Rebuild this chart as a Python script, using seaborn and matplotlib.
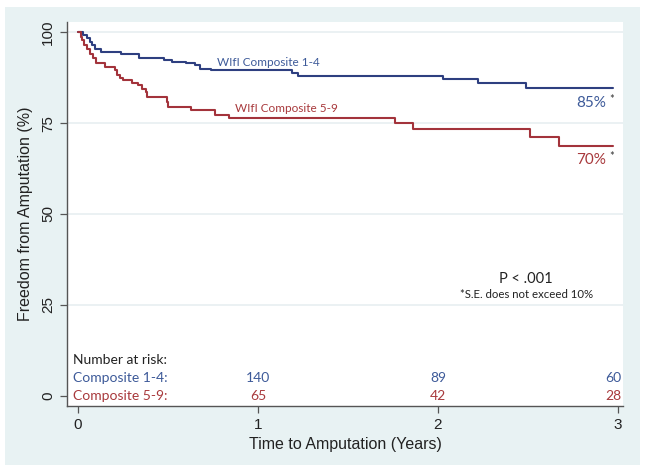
import numpy as np
import pandas as pd
import matplotlib
matplotlib.use("Agg")
import matplotlib.pyplot as plt
import seaborn as sns
from matplotlib.patches import Rectangle

# Kaplan-Meier step curves (years, % free from amputation)
t_low = [0, 0.03, 0.048, 0.067, 0.076, 0.094, 0.13, 0.24, 0.34, 0.48, 0.52, 0.60,
         0.65, 0.68, 0.74, 1.19, 1.22, 2.03, 2.22, 2.49, 2.97]
s_low = [100, 99.2, 98.3, 97.3, 96.4, 95.5, 94.6, 94.1, 92.8, 92.3, 91.8, 91.4,
         90.9, 90.0, 89.6, 88.8, 88.0, 87.0, 85.9, 84.7, 84.7]

t_high = [0, 0.015, 0.024, 0.033, 0.048, 0.067, 0.085, 0.10, 0.15, 0.206, 0.215,
          0.233, 0.252, 0.298, 0.335, 0.354, 0.378, 0.385, 0.493, 0.502, 0.63,
          0.76, 0.84, 1.76, 1.86, 2.51, 2.67, 2.97]
s_high = [100, 98.7, 97.8, 96.4, 95.5, 94.1, 92.8, 91.4, 90.5, 89.6, 88.2,
          87.3, 86.8, 85.9, 85.4, 84.5, 83.6, 82.2, 80.9, 79.5, 78.6,
          77.2, 76.3, 74.9, 73.3, 71.1, 68.7, 68.7]

risk_times = [1, 2, 3]
risk_low = [140, 89, 60]
risk_high = [65, 42, 28]

blue = "#2e3f80"
red = "#a3333b"
txt_blue = "#3d5a99"
txt_red = "#a8393c"

df = pd.concat([
    pd.DataFrame({"t": t_low, "s": s_low, "group": "1-4"}),
    pd.DataFrame({"t": t_high, "s": s_high, "group": "5-9"}),
])

sns.set_style("white")
plt.rcParams["font.family"] = ["Liberation Sans", "DejaVu Sans"]

fig = plt.figure(figsize=(6.45, 4.73), dpi=100, facecolor="white")
fig.add_artist(Rectangle((5 / 645, 1 - 465 / 473), 635 / 645, 458 / 473,
                         transform=fig.transFigure, facecolor="#e8f2f3",
                         edgecolor="none", zorder=-10))
ax = fig.add_axes([67 / 645, 1 - 406 / 473, 556 / 645, 384 / 473])
ax.set_facecolor("white")
ax.set_zorder(1)

sns.lineplot(data=df, x="t", y="s", hue="group", palette=[blue, red],
             drawstyle="steps-post", estimator=None, legend=False, lw=1.5, ax=ax)

ax.set_xlim(-0.061, 3.028)
ax.set_ylim(-2.8, 102.8)
ax.set_xticks([0, 1, 2, 3])
ax.set_yticks([0, 25, 50, 75, 100])
for y in [25, 50, 75, 100]:
    ax.axhline(y, color="#e5eef0", lw=1.1, zorder=0)

for side in ["top", "right"]:
    ax.spines[side].set_visible(False)
for side in ["left", "bottom"]:
    ax.spines[side].set_color("#555555")
    ax.spines[side].set_linewidth(1.0)

ax.tick_params(axis="both", direction="out", length=5, width=0.9, color="#555555",
               labelsize=11, labelcolor="#222222", left=True, bottom=True)
for lab in ax.get_yticklabels():
    lab.set_rotation(90)
    lab.set_va("center")

ax.set_xlabel("Time to Amputation (Years)", fontsize=11.5, color="#222222", labelpad=4)
ax.set_ylabel("Freedom from Amputation (%)", fontsize=11.5, color="#222222", labelpad=6)

lato = ["Lato", "DejaVu Sans"]
ax.text(0.77, 91.8, "WIfI Composite 1-4", color=txt_blue, fontsize=8.5, family=lato,
        va="center")
ax.text(0.875, 78.9, "WIfI Composite 5-9", color=txt_red, fontsize=8.5, family=lato,
        va="center")
ax.text(2.85, 80.5, "85%", color=txt_blue, fontsize=11, family=lato, ha="center", va="center")
ax.text(2.967, 81.6, "*", color="#333333", fontsize=8, family=lato, ha="center", va="center")
ax.text(2.85, 64.8, "70%", color=txt_red, fontsize=11, family=lato, ha="center", va="center")
ax.text(2.967, 65.9, "*", color="#333333", fontsize=8, family=lato, ha="center", va="center")

ax.text(2.49, 32.2, "P < .001", color="#222222", fontsize=10.5, family=lato, ha="center", va="center")
ax.text(2.49, 27.8, "*S.E. does not exceed 10%", color="#222222", fontsize=8.2, family=lato,
        ha="center", va="center")

ax.text(-0.03, 9.9, "Number at risk:", color="#222222", fontsize=10, family=lato, va="center")
ax.text(-0.03, 5.0, "Composite 1-4:", color=txt_blue, fontsize=10, family=lato, va="center")
ax.text(-0.03, 0.0, "Composite 5-9:", color=txt_red, fontsize=10, family=lato, va="center")
for i, t in enumerate(risk_times):
    ha = "right" if t == 3 else "center"
    xt = 3.02 if t == 3 else t
    ax.text(xt, 5.0, str(risk_low[i]), color=txt_blue, fontsize=10, family=lato, ha=ha, va="center")
    ax.text(xt, 0.0, str(risk_high[i]), color=txt_red, fontsize=10, family=lato, ha=ha, va="center")

fig.savefig("out.png", dpi=100, facecolor="white")
